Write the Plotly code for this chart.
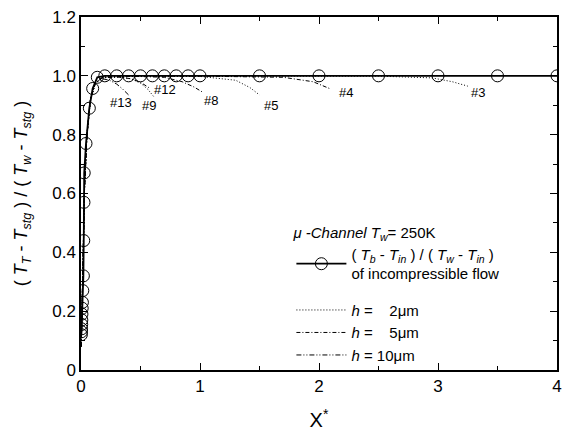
import plotly.graph_objects as go

FONT = "Arial, 'Liberation Sans', Helvetica, sans-serif"

# Incompressible flow (T_b - T_in)/(T_w - T_in)
inc_x = [0.003, 0.004, 0.005, 0.006, 0.007, 0.008, 0.010, 0.012, 0.015, 0.020, 0.023,
         0.025, 0.027, 0.042, 0.070, 0.098, 0.137, 0.2, 0.3, 0.4, 0.5, 0.6, 0.7, 0.8,
         0.9, 1.0, 1.5, 2.0, 2.5, 3.0, 3.5, 4.0]
inc_y = [0.12, 0.13, 0.14, 0.155, 0.17, 0.19, 0.21, 0.23, 0.27, 0.32, 0.44,
         0.57, 0.67, 0.77, 0.89, 0.957, 0.995, 1.0, 1.0, 1.0, 1.0, 1.0, 1.0, 1.0,
         1.0, 1.0, 1.0, 1.0, 1.0, 1.0, 1.0, 1.0]

# Channel curves (T_T - T_stg)/(T_w - T_stg)
c13_x = [0.002, 0.005, 0.01, 0.02, 0.03, 0.05, 0.08, 0.12, 0.18, 0.24, 0.30, 0.35, 0.40]
c13_y = [0.08, 0.15, 0.24, 0.45, 0.62, 0.80, 0.92, 0.975, 0.99, 0.985, 0.972, 0.955, 0.935]

c12_x = [0.002, 0.005, 0.01, 0.02, 0.03, 0.05, 0.08, 0.12, 0.18, 0.30, 0.42, 0.50, 0.57]
c12_y = [0.08, 0.15, 0.24, 0.45, 0.62, 0.80, 0.92, 0.975, 0.993, 0.997, 0.99, 0.978, 0.96]

c9_x = [0.002, 0.005, 0.01, 0.02, 0.03, 0.05, 0.08, 0.12, 0.18, 0.30, 0.42, 0.50, 0.56, 0.61]
c9_y = [0.08, 0.15, 0.24, 0.45, 0.62, 0.80, 0.92, 0.975, 0.993, 0.997, 0.99, 0.975, 0.955, 0.93]

c8_x = [0.002, 0.005, 0.01, 0.02, 0.03, 0.05, 0.08, 0.12, 0.18, 0.40, 0.70, 0.85, 0.95, 1.02]
c8_y = [0.08, 0.15, 0.24, 0.45, 0.62, 0.80, 0.92, 0.975, 0.995, 0.999, 0.995, 0.98, 0.962, 0.945]

c5_x = [0.002, 0.005, 0.01, 0.02, 0.03, 0.05, 0.08, 0.12, 0.18, 0.50, 1.00, 1.30, 1.42, 1.50]
c5_y = [0.08, 0.15, 0.24, 0.45, 0.62, 0.80, 0.92, 0.975, 0.995, 0.999, 0.998, 0.985, 0.96, 0.935]

c4_x = [0.002, 0.005, 0.01, 0.02, 0.03, 0.05, 0.08, 0.12, 0.18, 0.50, 1.00, 1.70, 1.95, 2.10]
c4_y = [0.08, 0.15, 0.24, 0.45, 0.62, 0.80, 0.92, 0.975, 0.995, 0.999, 0.999, 0.995, 0.98, 0.955]

c3_x = [0.002, 0.005, 0.01, 0.02, 0.03, 0.05, 0.08, 0.12, 0.18, 0.50, 1.50, 2.50, 2.95, 3.12, 3.25]
c3_y = [0.08, 0.15, 0.24, 0.45, 0.62, 0.80, 0.92, 0.975, 0.995, 0.999, 0.999, 0.999, 0.993, 0.98, 0.965]

# Curve labels
label_text = ["#13", "#9", "#12", "#8", "#5", "#4", "#3"]
label_x = [0.34, 0.57, 0.71, 1.09, 1.60, 2.23, 3.34]
label_y = [0.91, 0.90, 0.955, 0.915, 0.90, 0.945, 0.945]

# Ticks
y_tickvals = [0, 0.2, 0.4, 0.6, 0.8, 1.0, 1.2]
y_ticktext = ["0", "0.2", "0.4", "0.6", "0.8", "1.0", "1.2"]
x_tickvals = [0, 1, 2, 3, 4]
x_ticktext = ["0", "1", "2", "3", "4"]

DOT = "1px,2px"
DASHDOT = "4px,2px,1px,2px"
DASHDOTDOT = "5px,2px,1px,2px,1px,2px"

fig = go.Figure()

fig.add_trace(go.Scatter(
    x=inc_x, y=inc_y, mode="lines+markers",
    line=dict(color="black", width=1.8),
    marker=dict(symbol="circle-open", size=12, color="black", line=dict(width=1)),
    name="( <i>T</i><sub><i>b</i></sub> - <i>T</i><sub><i>in</i></sub> ) / ( <i>T</i><sub><i>w</i></sub> - <i>T</i><sub><i>in</i></sub> )<br>of incompressible flow",
    legendgroup="a", legendrank=1,
))

curve_specs = [
    (c3_x, c3_y, DOT, True, "<i>h</i> =\u00a0\u00a0\u00a0 2μm", 2),
    (c4_x, c4_y, DASHDOT, True, "<i>h</i> =\u00a0\u00a0\u00a0 5μm", 3),
    (c5_x, c5_y, DOT, False, "", 10),
    (c8_x, c8_y, DASHDOT, False, "", 10),
    (c9_x, c9_y, DOT, False, "", 10),
    (c12_x, c12_y, DASHDOT, False, "", 10),
    (c13_x, c13_y, DASHDOTDOT, True, "<i>h</i> = 10μm", 4),
]
for cx, cy, dash, show, nm, rank in curve_specs:
    fig.add_trace(go.Scatter(
        x=cx, y=cy, mode="lines",
        line=dict(color="black", width=1, dash=dash),
        name=nm, showlegend=show, legendgroup="b", legendrank=rank,
    ))

for t, lx, ly in zip(label_text, label_x, label_y):
    fig.add_annotation(x=lx, y=ly, text=t, showarrow=False,
                       font=dict(family=FONT, size=13, color="black"))

axis_common = dict(
    showline=True, linecolor="black", linewidth=1.5, mirror="allticks",
    ticks="inside", ticklen=7, tickwidth=1, tickcolor="black",
    showgrid=False, zeroline=False,
    tickfont=dict(family=FONT, size=17, color="black"),
)

fig.update_xaxes(
    range=[0, 4], tickvals=x_tickvals, ticktext=x_ticktext,
    minor=dict(ticks="inside", ticklen=4, dtick=0.5, tickcolor="black", showgrid=False),
    title=dict(text="X<sup>*</sup>", font=dict(family=FONT, size=20, color="black"), standoff=18),
    **axis_common,
)
fig.update_yaxes(
    range=[0, 1.2], tickvals=y_tickvals, ticktext=y_ticktext,
    minor=dict(ticks="inside", ticklen=4, dtick=0.1, tickcolor="black", showgrid=False),
    title=dict(text="( <i>T</i><sub><i>T</i></sub> - <i>T</i><sub><i>stg</i></sub> ) / ( <i>T</i><sub><i>w</i></sub> - <i>T</i><sub><i>stg</i></sub> )",
               font=dict(family=FONT, size=18, color="black"), standoff=20),
    **axis_common,
)

fig.update_layout(
    width=563, height=434,
    margin=dict(l=81, r=6, t=17, b=64, autoexpand=False),
    paper_bgcolor="white", plot_bgcolor="white",
    font=dict(family=FONT, color="black"),
    showlegend=True,
    legend=dict(
        x=0.442, y=0.43, xanchor="left", yanchor="top",
        bgcolor="rgba(0,0,0,0)", borderwidth=0,
        font=dict(family=FONT, size=15, color="black"),
        title=dict(text="<i>μ -Channel T</i><sub><i>w</i></sub>= 250K",
                   font=dict(family=FONT, size=15, color="black")),
        tracegroupgap=14, itemwidth=50, traceorder="grouped",
    ),
)

fig.write_html("out.html", config={"displayModeBar": False},
               post_script="document.body.style.margin='0';")
